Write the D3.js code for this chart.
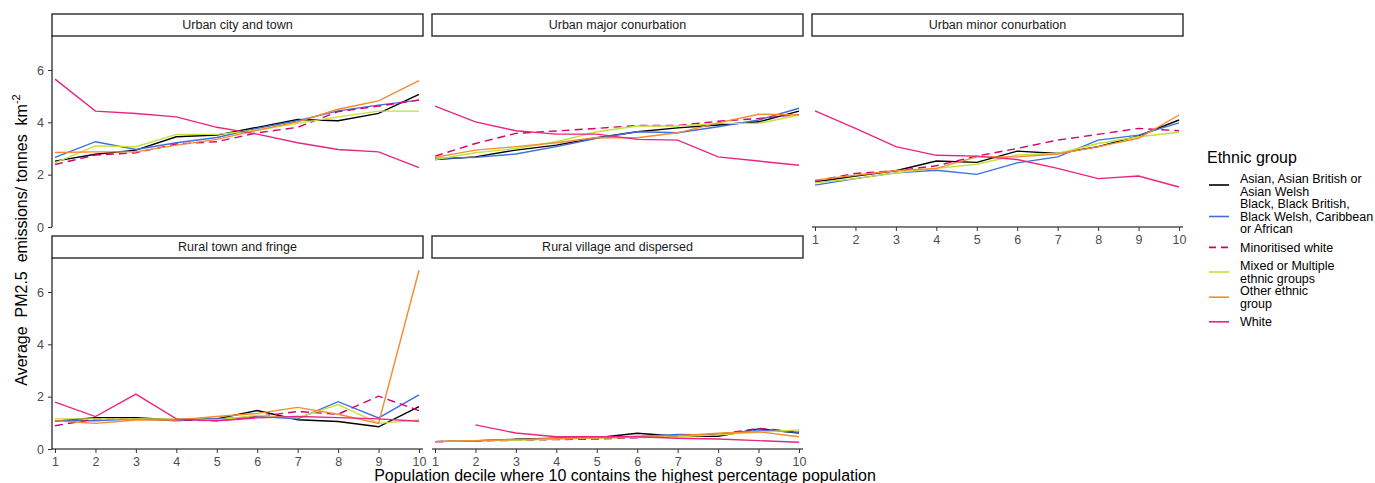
<!DOCTYPE html>
<html>
<head>
<meta charset="utf-8">
<script src="https://cdn.jsdelivr.net/npm/d3@7"></script>
<style>
  body { margin: 0; background: #fff; }
  svg { font-family: "Liberation Sans", Arial, sans-serif; }
</style>
</head>
<body>
<svg id="chart" width="1375" height="483"></svg>
<script>
// Datos
var deciles = [1, 2, 3, 4, 5, 6, 7, 8, 9, 10];
var yTicks = [0, 2, 4, 6];

var groups = ["Asian, Asian British or Asian Welsh",
              "Black, Black British, Black Welsh, Caribbean or African",
              "Minoritised white",
              "Mixed or Multiple ethnic groups",
              "Other ethnic group",
              "White"];
var legendLines = [["Asian, Asian British or", "Asian Welsh"],
                   ["Black, Black British,", "Black Welsh, Caribbean", "or African"],
                   ["Minoritised white"],
                   ["Mixed or Multiple", "ethnic groups"],
                   ["Other ethnic", "group"],
                   ["White"]];
var colors = ["#000000", "#3d6fdc", "#d4006c", "#c4e03a", "#f58a2e", "#e8267f"];

var panels = ["Urban city and town", "Urban major conurbation", "Urban minor conurbation",
              "Rural town and fringe", "Rural village and dispersed"];

// una fila por grupo, en el orden de "groups"
var urbanCityTown = [
  [2.52, 2.78, 2.94, 3.45, 3.51, 3.81, 4.11, 4.06, 4.34, 5.07],
  [2.66, 3.26, 2.96, 3.22, 3.42, 3.77, 4.06, 4.44, 4.66, 4.85],
  [2.39, 2.75, 2.84, 3.17, 3.26, 3.60, 3.81, 4.41, 4.62, 4.85],
  [2.45, 3.10, 3.07, 3.54, 3.54, 3.70, 3.96, 4.21, 4.43, 4.43],
  [2.85, 2.87, 2.87, 3.13, 3.35, 3.70, 4.02, 4.50, 4.82, 5.59],
  [5.65, 4.43, 4.34, 4.21, 3.81, 3.55, 3.22, 2.96, 2.87, 2.27]
];
var urbanMajor = [
  [2.58, 2.68, 2.94, 3.13, 3.41, 3.64, 3.79, 3.90, 4.02, 4.43],
  [2.62, 2.66, 2.79, 3.07, 3.39, 3.64, 3.60, 3.83, 4.09, 4.54],
  [2.71, 3.19, 3.58, 3.67, 3.77, 3.88, 3.88, 4.04, 4.15, 4.30],
  [2.58, 2.84, 3.00, 3.26, 3.64, 3.86, 3.86, 3.96, 3.96, 4.28],
  [2.66, 2.94, 3.07, 3.22, 3.42, 3.41, 3.60, 3.98, 4.31, 4.28],
  [4.62, 4.02, 3.68, 3.55, 3.55, 3.35, 3.32, 2.68, 2.52, 2.36]
];
var urbanMinor = [
  [1.72, 1.95, 2.15, 2.52, 2.47, 2.90, 2.81, 3.07, 3.48, 4.09],
  [1.60, 1.85, 2.07, 2.17, 2.01, 2.45, 2.68, 3.32, 3.51, 3.98],
  [1.76, 2.05, 2.15, 2.34, 2.71, 3.00, 3.32, 3.54, 3.77, 3.68],
  [1.69, 1.85, 2.07, 2.24, 2.40, 2.75, 2.81, 3.19, 3.45, 3.62],
  [1.79, 1.98, 2.15, 2.24, 2.68, 2.68, 2.79, 3.07, 3.39, 4.28],
  [4.44, 3.77, 3.07, 2.74, 2.71, 2.58, 2.24, 1.85, 1.95, 1.53]
];
var ruralTown = [
  [1.06, 1.20, 1.20, 1.11, 1.15, 1.47, 1.12, 1.05, 0.85, 1.62],
  [1.08, 1.08, 1.15, 1.08, 1.15, 1.24, 1.15, 1.81, 1.19, 2.07],
  [0.89, 1.15, 1.15, 1.11, 1.08, 1.24, 1.43, 1.33, 2.02, 1.47],
  [1.15, 1.15, 1.15, 1.15, 1.11, 1.29, 1.19, 1.70, 0.98, 1.11],
  [1.08, 0.98, 1.11, 1.11, 1.24, 1.36, 1.59, 1.33, 0.98, 6.83],
  [1.79, 1.24, 2.10, 1.15, 1.08, 1.19, 1.24, 1.20, 1.15, 1.06]
];
var ruralVillage = [
  [0.28, 0.31, 0.37, 0.41, 0.43, 0.60, 0.49, 0.49, 0.77, 0.61],
  [0.28, 0.32, 0.36, 0.40, 0.43, 0.47, 0.56, 0.54, 0.73, 0.64],
  [0.28, 0.31, 0.33, 0.36, 0.38, 0.43, 0.51, 0.56, 0.79, 0.66],
  [0.28, 0.32, 0.33, 0.38, 0.42, 0.45, 0.47, 0.54, 0.64, 0.73],
  [0.28, 0.32, 0.36, 0.40, 0.43, 0.49, 0.51, 0.60, 0.66, 0.47],
  [null, 0.92, 0.61, 0.47, 0.47, 0.47, 0.41, 0.38, 0.32, 0.26]
];
var panelValues = [urbanCityTown, urbanMajor, urbanMinor, ruralTown, ruralVillage];

// Disposición
var colX = [52, 432, 812];
var rowY = [36, 258];
var panelW = 371, panelH = 191, stripH = 22;
var stripFont = 12.5, tickFont = 12.5, titleFont = 16, legendFont = 12.5;

var x = d3.scaleLinear().domain([1, 10]).range([3, 367]);
var y = d3.scaleLinear().domain([0, 7.3]).range([panelH, 0]);

var line = d3.line()
    .defined(d => d[1] != null)
    .x(d => x(d[0]))
    .y(d => y(d[1]));

var svg = d3.select("#chart");

panels.forEach(function(name, i) {
    var col = i % 3, row = Math.floor(i / 3);
    var g = svg.append("g")
        .attr("transform", "translate(" + colX[col] + "," + rowY[row] + ")");

    // tira con el título
    g.append("rect")
        .attr("x", 0).attr("y", -stripH)
        .attr("width", panelW).attr("height", stripH)
        .attr("fill", "#fff").attr("stroke", "#1a1a1a").attr("stroke-width", 1.3);
    g.append("text")
        .attr("x", panelW / 2).attr("y", -stripH / 2)
        .attr("dy", "0.35em")
        .attr("text-anchor", "middle")
        .attr("font-size", stripFont)
        .attr("fill", "#1a1a1a")
        .text(name);

    // líneas
    panelValues[i].forEach(function(vals, k) {
        g.append("path")
            .datum(deciles.map((d, j) => [d, vals[j]]))
            .attr("d", line)
            .attr("fill", "none")
            .attr("stroke", colors[k])
            .attr("stroke-width", 1.4)
            .attr("stroke-dasharray", groups[k] === "Minoritised white" ? "8,5" : null);
    });

    // eje y solo en la primera columna
    if (col === 0) {
        var ay = g.append("g")
            .call(d3.axisLeft(y).tickValues(yTicks).tickSize(4).tickPadding(4));
        ay.select(".domain").attr("d", "M0," + panelH + "V0").attr("stroke", "#000").attr("stroke-width", 1.1);
        ay.selectAll(".tick line").attr("stroke", "#333");
        ay.selectAll(".tick text").attr("fill", "#4d4d4d").attr("font-size", tickFont)
            .attr("font-family", "Liberation Sans, Arial, sans-serif");
    }
    // eje x solo en los paneles inferiores
    if (row === 1 || i === 2) {
        var ax = g.append("g")
            .attr("transform", "translate(0," + panelH + ")")
            .call(d3.axisBottom(x).tickValues(deciles).tickFormat(d3.format("d")).tickSize(4).tickPadding(4));
        ax.select(".domain").attr("d", "M0,0H" + panelW).attr("stroke", "#000").attr("stroke-width", 1.1);
        ax.selectAll(".tick line").attr("stroke", "#333");
        ax.selectAll(".tick text").attr("fill", "#4d4d4d").attr("font-size", tickFont)
            .attr("font-family", "Liberation Sans, Arial, sans-serif");
    }
});

// Títulos de los ejes
svg.append("text")
    .attr("x", 625).attr("y", 481)
    .attr("text-anchor", "middle")
    .attr("font-size", titleFont)
    .attr("fill", "#000")
    .text("Population decile where 10 contains the highest percentage population");

var yt = svg.append("text")
    .attr("transform", "translate(27,240) rotate(-90)")
    .attr("text-anchor", "middle")
    .attr("font-size", titleFont)
    .attr("fill", "#000");
yt.append("tspan").attr("xml:space", "preserve").text("Average  PM2.5  emissions/ tonnes  km");
yt.append("tspan").attr("dy", "-0.6em").attr("font-size", 11).text("-2");

// Leyenda
var legend = svg.append("g");
legend.append("text")
    .attr("x", 1207).attr("y", 163)
    .attr("font-size", titleFont)
    .attr("fill", "#000")
    .text("Ethnic group");

var lineH = 12.6, legendTop = 172.4;
legendLines.forEach(function(lines, k) {
    var h = Math.max(24, lines.length * lineH);
    var cy = legendTop + h / 2;
    legend.append("line")
        .attr("x1", 1209).attr("x2", 1229)
        .attr("y1", cy).attr("y2", cy)
        .attr("stroke", colors[k])
        .attr("stroke-width", 1.6)
        .attr("stroke-dasharray", groups[k] === "Minoritised white" ? "7,5" : null);
    lines.forEach(function(t, j) {
        legend.append("text")
            .attr("x", 1240)
            .attr("y", cy + (j - (lines.length - 1) / 2) * lineH)
            .attr("dy", "0.35em")
            .attr("font-size", legendFont)
            .attr("fill", "#000")
            .text(t);
    });
    legendTop += h;
});
</script>
</body>
</html>
